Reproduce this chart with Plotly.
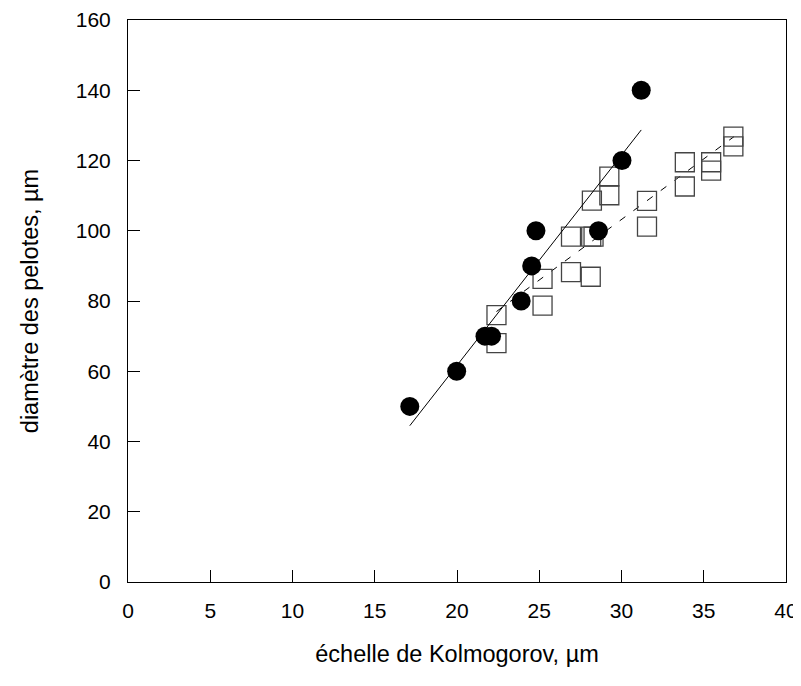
import plotly.graph_objects as go

# filled circles (series 1)
circles_x = [17.13, 19.98, 21.7, 22.1, 23.9, 24.54, 24.8, 28.6, 30.03, 31.2]
circles_y = [50, 60, 70, 70, 80, 90, 100, 100, 120, 140]

# open squares (series 2)
squares_x = [22.4, 22.4, 25.2, 25.2, 26.93, 26.93, 28.13, 28.16, 28.3, 28.2,
             29.26, 29.26, 31.55, 31.55, 33.85, 33.85, 35.45, 35.45, 36.8, 36.8]
squares_y = [68.0, 76.0, 78.7, 86.3, 88.2, 98.3, 86.9, 98.3, 98.3, 108.6,
             110.1, 115.4, 101.2, 108.5, 112.6, 119.5, 117.1, 119.5, 124.0, 126.8]

# fitted lines, end points
fit1_x = [17.13, 31.2]
fit1_y = [44.5, 128.7]
fit2_x = [22.4, 36.84]
fit2_y = [77.0, 126.8]

x_ticks = [0, 5, 10, 15, 20, 25, 30, 35, 40]
y_ticks = [0, 20, 40, 60, 80, 100, 120, 140, 160]

fig = go.Figure()

fig.add_trace(go.Scatter(x=fit2_x, y=fit2_y, mode='lines',
                         line=dict(color='black', width=1, dash='7px,10px'),
                         showlegend=False))
fig.add_trace(go.Scatter(x=squares_x, y=squares_y, mode='markers',
                         marker=dict(symbol='square-open', size=19,
                                     color='#444444', line=dict(width=1.3)),
                         showlegend=False))
fig.add_trace(go.Scatter(x=fit1_x, y=fit1_y, mode='lines',
                         line=dict(color='black', width=1),
                         showlegend=False))
fig.add_trace(go.Scatter(x=circles_x, y=circles_y, mode='markers',
                         marker=dict(symbol='circle', size=19, color='black'),
                         showlegend=False))

font = 'Liberation Sans, Arial, sans-serif'
axis_common = dict(showgrid=False, zeroline=False, showline=True,
                   linecolor='black', linewidth=1, mirror=True,
                   ticks='inside', ticklen=12, tickcolor='black', tickwidth=1,
                   automargin=False,
                   tickfont=dict(family=font, size=21, color='black'))

fig.update_xaxes(range=[0, 40], tickvals=x_ticks, ticklabelstandoff=10,
                 title=dict(text='échelle de Kolmogorov, µm', standoff=24,
                            font=dict(family=font, size=23.5, color='black')),
                 **axis_common)
fig.update_yaxes(range=[0, 160], tickvals=y_ticks, ticklabelstandoff=12,
                 title=dict(text='diamètre des pelotes, µm', standoff=30,
                            font=dict(family=font, size=23.5, color='black')),
                 **axis_common)

# the page body adds an 8px offset, so the figure is 8px smaller than the window
fig.update_layout(width=793, height=678,
                  margin=dict(l=120, r=15, t=12, b=104),
                  plot_bgcolor='white', paper_bgcolor='white')

fig.write_html("out.html")
